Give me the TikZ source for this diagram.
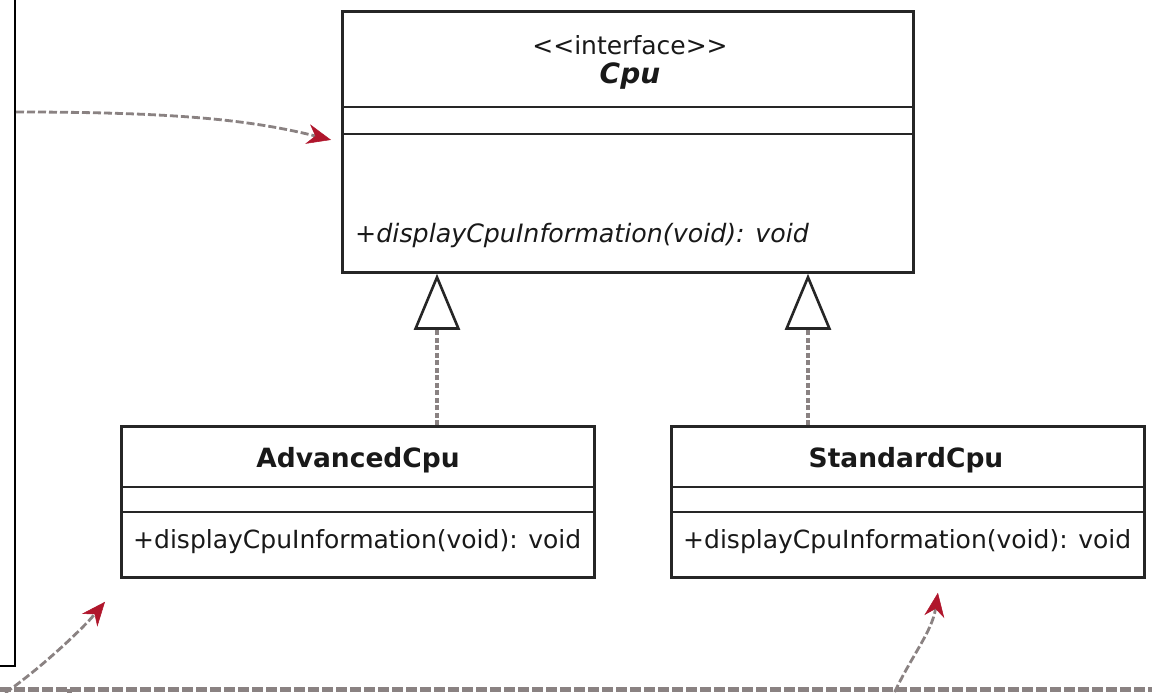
\documentclass[tikz,border=0pt]{standalone}
\usepackage{fontspec}
\setmainfont{DejaVu Sans}
\usetikzlibrary{arrows.meta,calc}
\definecolor{edge}{HTML}{262626}
\definecolor{dashgray}{HTML}{8A8282}
\definecolor{tipred}{HTML}{B0162C}
\begin{document}
\begin{tikzpicture}[x=1pt,y=-1pt,
  classbox/.style={draw=edge, line width=2.8pt, fill=white, inner sep=0pt, anchor=north west},
  divider/.style={draw=edge, line width=2.8pt},
  txt/.style={inner sep=0pt, text=black!90, font=\fontsize{25}{30}\selectfont},
  realize/.style={draw=dashgray, line width=3.2pt, dash pattern=on 5pt off 2.5pt,
    -{Triangle[open, length=56pt, width=46pt, line width=2.6pt, color=edge]}},
  dep/.style={draw=dashgray, line width=2.8pt, dash pattern=on 8pt off 3pt,
    -{Stealth[length=24pt, width=20pt, color=tipred, fill=tipred, line width=0.5pt]}},
  rail/.style={draw=dashgray, line width=5pt, dash pattern=on 11pt off 3pt}]

\useasboundingbox (0,0) rectangle (1152,693);
\fill[white] (0,0) rectangle (1152,693);
\clip (0,0) rectangle (1152,693);

% context frame running off the left edge
\node[draw=black, line width=2.2pt, minimum width=300pt, minimum height=800pt,
      inner sep=0pt, anchor=south east] (ctx) at (16,667) {};

% interface Cpu
\node[classbox, minimum width=571pt, minimum height=261pt] (cpu) at (341,10) {};
\coordinate (cpuA) at (0,107);
\coordinate (cpuB) at (0,134);
\draw[divider] (cpu.west |- cpuA) -- (cpu.east |- cpuA);
\draw[divider] (cpu.west |- cpuB) -- (cpu.east |- cpuB);
\node[txt, anchor=base] (cpuster) at (630,55) {<{}<interface>{}>};
\node[txt, anchor=base, font=\fontsize{28}{32}\selectfont\bfseries\itshape] (cpuname) at (630,84) {Cpu};
\node[txt, anchor=base west, font=\fontsize{25.3}{30}\selectfont\itshape] (cpuop) at (355,242) {+displayCpuInformation(void): void};

% AdvancedCpu
\node[classbox, minimum width=473pt, minimum height=151pt] (adv) at (120,425) {};
\coordinate (advA) at (0,487);
\coordinate (advB) at (0,512);
\draw[divider] (adv.west |- advA) -- (adv.east |- advA);
\draw[divider] (adv.west |- advB) -- (adv.east |- advB);
\node[txt, anchor=base, font=\fontsize{26.5}{30}\selectfont\bfseries] (advname) at (358,467) {AdvancedCpu};
\node[txt, anchor=base west] (advop) at (133,548) {+displayCpuInformation(void): void};

% StandardCpu
\node[classbox, minimum width=473pt, minimum height=151pt] (std) at (670,425) {};
\coordinate (stdA) at (0,487);
\coordinate (stdB) at (0,512);
\draw[divider] (std.west |- stdA) -- (std.east |- stdA);
\draw[divider] (std.west |- stdB) -- (std.east |- stdB);
\node[txt, anchor=base, font=\fontsize{26.5}{30}\selectfont\bfseries] (stdname) at (906,467) {StandardCpu};
\node[txt, anchor=base west] (stdop) at (683,548) {+displayCpuInformation(void): void};

% realizations
\coordinate (ra) at (437,0);
\coordinate (rb) at (808,0);
\draw[realize] (adv.north -| ra) -- (cpu.south -| ra);
\draw[realize] (std.north -| rb) -- (cpu.south -| rb);

% dependencies
\coordinate (d1) at (0,112);
\draw[dep] (ctx.east |- d1) .. controls +(160,0) and +(-80,-20) .. ([shift={(-10,-2)}]cpu.west);

\coordinate (d2) at (-4,699);
\draw[dep] (d2) .. controls +(35,-22) and +(-25,30) .. ([shift={(-15,23)}]adv.south west);

\coordinate (d3) at (890,702);
\draw[dep] (d3) .. controls +(20,-45) and +(-6,40) .. ([shift={(30,14)}]std.south);

% bottom rail
\coordinate (hl) at (0,689);
\coordinate (hr) at (1152,689);
\draw[rail] (hl) -- (hr);
\coordinate (vs) at (69,689);
\coordinate (ve) at (69,700);
\draw[rail] (vs) -- (ve);
\end{tikzpicture}
\end{document}
